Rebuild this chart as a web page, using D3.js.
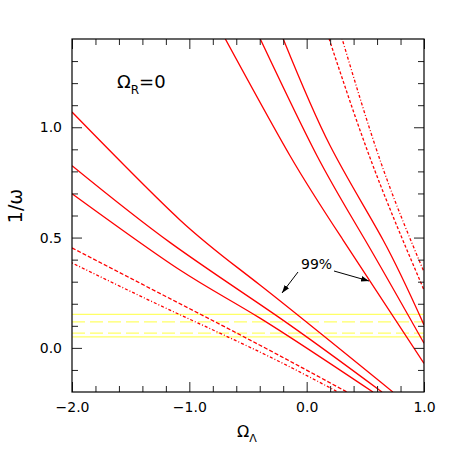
<!DOCTYPE html>
<html><head><meta charset="utf-8">
<script src="https://cdn.jsdelivr.net/npm/d3@7"></script>
<style>body{margin:0;background:#fff}svg{display:block}</style>
</head><body>
<svg id="c" width="463" height="463"></svg>
<script>
// ---- data (Omega_Lambda, 1/omega) ----
const xMajor = [-2, -1, 0, 1];
const xMinor = [-1.8,-1.6,-1.4,-1.2,-0.8,-0.6,-0.4,-0.2,0.2,0.4,0.6,0.8];
const yMajor = [0, 0.5, 1.0];
const yMinor = [-0.1,0.1,0.2,0.3,0.4,0.6,0.7,0.8,0.9,1.1,1.2,1.3];

// lower-left solid contours
const curveAx = [-2.0, -1.08, -0.398, 0.735];
const curveAy = [1.069, 0.580, 0.285, -0.2];
const curveBx = [-2.0, -1.16, -0.227, 0.642];
const curveBy = [0.826, 0.476, 0.135, -0.2];
const curveCx = [-2.0, -1.080, -0.398, 0.565];
const curveCy = [0.699, 0.353, 0.135, -0.2];
// lower-left dash-dot contours
const curveD1x = [-2.0, -1.2, -0.398, 0.343];
const curveD1y = [0.453, 0.233, 0.012, -0.2];
const curveD2x = [-2.0, -1.2, -0.398, 0.267];
const curveD2y = [0.385, 0.180, -0.019, -0.2];
// upper-right solid contours
const curveEx = [-0.696, -0.142, 0.309, 1.0];
const curveEy = [1.403, 0.871, 0.490, -0.070];
const curveFx = [-0.398, 0.088, 0.497, 1.0];
const curveFy = [1.403, 0.871, 0.490, 0.021];
const curveGx = [-0.202, 0.199, 0.650, 1.0];
const curveGy = [1.403, 0.917, 0.490, 0.104];
// upper-right dash-dot contours
const curveH1x = [0.190, 0.565, 1.0];
const curveH1y = [1.403, 0.826, 0.262];
const curveH2x = [0.301, 0.642, 1.0];
const curveH2y = [1.403, 0.826, 0.344];
// horizontal yellow bands
const bandSolid = [0.152, 0.050];
const bandDashed = [0.118, 0.067];

const svg = d3.select("#c");
const L = 72, R = 424, T = 39, B = 392;
const x = d3.scaleLinear().domain([-2, 1]).range([L, R]);
const y = d3.scaleLinear().domain([-0.2, 1.4]).range([B, T]);

svg.append("clipPath").attr("id","clip").append("rect")
  .attr("x", L).attr("y", T).attr("width", R-L).attr("height", B-T);
const plot = svg.append("g").attr("clip-path","url(#clip)");

// yellow lines
bandSolid.forEach(v => plot.append("line").attr("x1",L).attr("x2",R)
  .attr("y1",y(v)).attr("y2",y(v)).attr("stroke","#ffff66").attr("stroke-width",1.2));
bandDashed.forEach(v => plot.append("line").attr("x1",L).attr("x2",R)
  .attr("y1",y(v)).attr("y2",y(v)).attr("stroke","#ffff66").attr("stroke-width",1.2)
  .attr("stroke-dasharray","13,5"));

const line = d3.line().x(d=>x(d[0])).y(d=>y(d[1])).curve(d3.curveNatural);
const zip = (a,b) => a.map((v,i)=>[v,b[i]]);
const solid = [[curveAx,curveAy],[curveBx,curveBy],[curveCx,curveCy],
               [curveEx,curveEy],[curveFx,curveFy],[curveGx,curveGy]];
solid.forEach(([a,b]) => plot.append("path").attr("d", line(zip(a,b)))
  .attr("fill","none").attr("stroke","#ff0000").attr("stroke-width",1.3));
const dashed = [[curveD1x,curveD1y,"4,2"],[curveD2x,curveD2y,"1,2,3,2"],
                [curveH1x,curveH1y,"3,2"],[curveH2x,curveH2y,"1,2,3,2"]];
dashed.forEach(([a,b,da]) => plot.append("path").attr("d", line(zip(a,b)))
  .attr("fill","none").attr("stroke","#ff0000").attr("stroke-width",1.3)
  .attr("stroke-dasharray",da));

// axes
const font = "DejaVu Sans";
function styleAxis(g){ g.select(".domain").remove(); g.selectAll("line").attr("stroke","#222");
  g.selectAll("text").attr("font-family",font).attr("font-size",14).attr("fill","#000"); }
const fmt = d3.format(".1f");
svg.append("g").attr("transform",`translate(0,${B})`)
  .call(d3.axisBottom(x).tickValues(xMajor).tickSize(-10).tickPadding(10).tickFormat(fmt)).call(styleAxis);
svg.append("g").attr("transform",`translate(0,${B})`)
  .call(d3.axisBottom(x).tickValues(xMinor).tickSize(-6).tickFormat("")).call(styleAxis);
svg.append("g").attr("transform",`translate(0,${T})`)
  .call(d3.axisTop(x).tickValues(xMajor).tickSize(-10).tickFormat("")).call(styleAxis);
svg.append("g").attr("transform",`translate(0,${T})`)
  .call(d3.axisTop(x).tickValues(xMinor).tickSize(-6).tickFormat("")).call(styleAxis);
svg.append("g").attr("transform",`translate(${L},0)`)
  .call(d3.axisLeft(y).tickValues(yMajor).tickSize(-10).tickPadding(10).tickFormat(fmt)).call(styleAxis);
svg.append("g").attr("transform",`translate(${L},0)`)
  .call(d3.axisLeft(y).tickValues(yMinor).tickSize(-6).tickFormat("")).call(styleAxis);
svg.append("g").attr("transform",`translate(${R},0)`)
  .call(d3.axisRight(y).tickValues(yMajor).tickSize(-10).tickFormat("")).call(styleAxis);
svg.append("g").attr("transform",`translate(${R},0)`)
  .call(d3.axisRight(y).tickValues(yMinor).tickSize(-6).tickFormat("")).call(styleAxis);
svg.append("rect").attr("x",L).attr("y",T).attr("width",R-L).attr("height",B-T)
  .attr("fill","none").attr("stroke","#000").attr("stroke-width",1.2);

// axis titles
svg.append("text").attr("transform","translate(22,206) rotate(-90)")
  .attr("text-anchor","middle").attr("font-family",font).attr("font-size",19).text("1/ω");
const xt = svg.append("text").attr("x",237).attr("y",437).attr("font-family",font).attr("font-size",16);
xt.append("tspan").text("Ω");
xt.append("tspan").attr("dy",5).attr("font-size",11).text("Λ");

// annotation
const an = svg.append("text").attr("x",117).attr("y",88).attr("font-family",font).attr("font-size",18);
an.append("tspan").text("Ω");
an.append("tspan").attr("dy",6).attr("font-size",12).text("R");
an.append("tspan").attr("dy",-6).text("=0");

svg.append("text").attr("x",301).attr("y",269).attr("font-family",font).attr("font-size",14).text("99%");
svg.append("defs").append("marker").attr("id","ah").attr("viewBox","0 0 10 10")
  .attr("refX",10).attr("refY",5).attr("markerWidth",8).attr("markerHeight",8)
  .attr("orient","auto").append("path").attr("d","M0,1.5L10,5L0,8.5Z").attr("fill","#000");
[[298,272,282,293],[334,271,369,281]].forEach(([a,b,c,d]) =>
  svg.append("line").attr("x1",a).attr("y1",b).attr("x2",c).attr("y2",d)
    .attr("stroke","#000").attr("stroke-width",1).attr("marker-end","url(#ah)"));
</script>
</body></html>
